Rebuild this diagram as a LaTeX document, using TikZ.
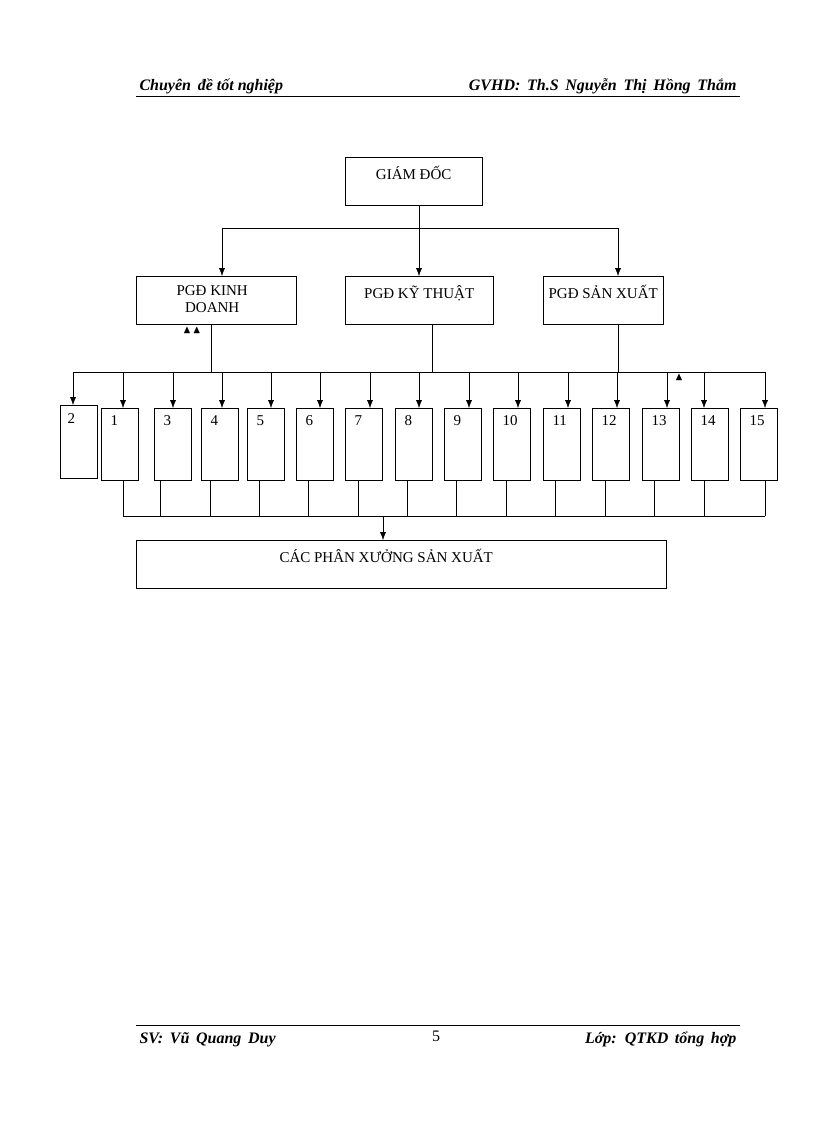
\documentclass[tikz,border=0pt]{standalone}
\usepackage{amssymb}
\usepackage{fontspec}
\setmainfont{Liberation Serif}
\usetikzlibrary{positioning,arrows.meta}
\begin{document}
\begin{tikzpicture}[x=1pt,y=-1pt,>={Latex[length=8pt,width=6pt]},
    box/.style={draw, anchor=north west, inner sep=0pt},
    txt/.style={font=\fontsize{15}{17}\selectfont, align=center},
    head/.style={font=\fontsize{16}{18}\selectfont\bfseries\itshape}]
    \useasboundingbox (0,0) rectangle (816,1123);

    % header and footer
    \node(HL)[head, anchor=base west] at (136,91){Chuyên \,đề tốt nghiệp};
    \node(HR)[head, anchor=base east] at (740,91){GVHD: \,Th.S \,Nguyễn \,Thị \,Hồng \,Thắm};
    \draw[line width=1pt] (136,97) -- (740,97);
    \draw[line width=1pt] (136,1025) -- (740,1025);
    \node(FL)[head, anchor=base west] at (136,1043){SV: \,Vũ \,Quang \,Duy};
    \node(FC)[txt, anchor=base] at (436,1041){\fontsize{16}{18}\selectfont 5};
    \node(FR)[head, anchor=base east] at (740,1043){Lớp: \,QTKD \,tổng \,hợp};

    % top levels
    \node(GD)[box, minimum width=137, minimum height=48] at (345,157){};
    \node[txt, anchor=north] at ([yshift=-6]GD.north){GIÁM ĐỐC};
    \node(KD)[box, minimum width=160, minimum height=48] at (136,276){};
    \node[txt, anchor=north] at ([xshift=-4,yshift=-6]KD.north){PGĐ KINH\\DOANH};
    \node(KT)[box, minimum width=148, minimum height=48] at (345,276){};
    \node[txt, anchor=north] at ([yshift=-6]KT.north){PGĐ KỸ THUẬT};
    \node(SX)[box, minimum width=120, minimum height=48] at (543,276){};
    \node[txt, anchor=north] at ([yshift=-6]SX.north){PGĐ SẢN XUẤT};

    \coordinate(T1) at (222,228);
    \coordinate(T2) at (618,228);
    \draw (GD.south -| 419,0) -- (419,228);
    \draw (T1) -- (T2);
    \draw[->] (T1) -- (KD.north -| T1);
    \draw[->] (419,228) -- (KT.north -| 419,0);
    \draw[->] (T2) -- (SX.north -| T2);

    % small marks
    \node[txt, font=\fontsize{11}{11}\selectfont] at (192,330){$\blacktriangle\,\blacktriangle$};
    \node[txt, font=\fontsize{11}{11}\selectfont] at (679,377){$\blacktriangle$};

    % units
    \coordinate(L) at (73,372);
    \coordinate(R) at (765,372);
    \draw (L) -- (R);
    \draw (KD.south -| 211,0) -- (211,372);
    \draw (KT.south -| 432,0) -- (432,372);
    \node(U2)[box, minimum width=37, minimum height=73] at (60,405){};
    \node[txt, anchor=north west] at (64,410){2};
    \draw[->] (L) -- (U2.north -| L);
    \foreach \n/\x/\a/\b in {1/101/123/123, 3/154/173/160, 4/201/222/210,
        5/247/271/259, 6/296/320/308, 7/345/370/358, 8/395/419/407,
        9/444/469/456, 10/493/518/506, 11/543/568/555, 12/592/617/605,
        13/642/667/654, 14/691/704/704, 15/740/765/765}{
      \node(U\n)[box, minimum width=37, minimum height=72] at (\x,408){};
      \node[txt, anchor=north west] at (\x+6,412){\n};
      \draw[->] (\a,372) -- (U\n.north -| \a,0);
      \draw (U\n.south -| \b,0) -- (\b,516);
    }
    \draw (618,324) -- (618,372);

    % workshops
    \node(PX)[box, minimum width=530, minimum height=48] at (136,540){};
    \node[txt, anchor=north] at ([xshift=-15,yshift=-6]PX.north){CÁC PHÂN XƯỞNG SẢN XUẤT};
    \draw (123,516) -- (765,516);
    \draw[->] (383,516) -- (PX.north -| 383,0);
\end{tikzpicture}
\end{document}
